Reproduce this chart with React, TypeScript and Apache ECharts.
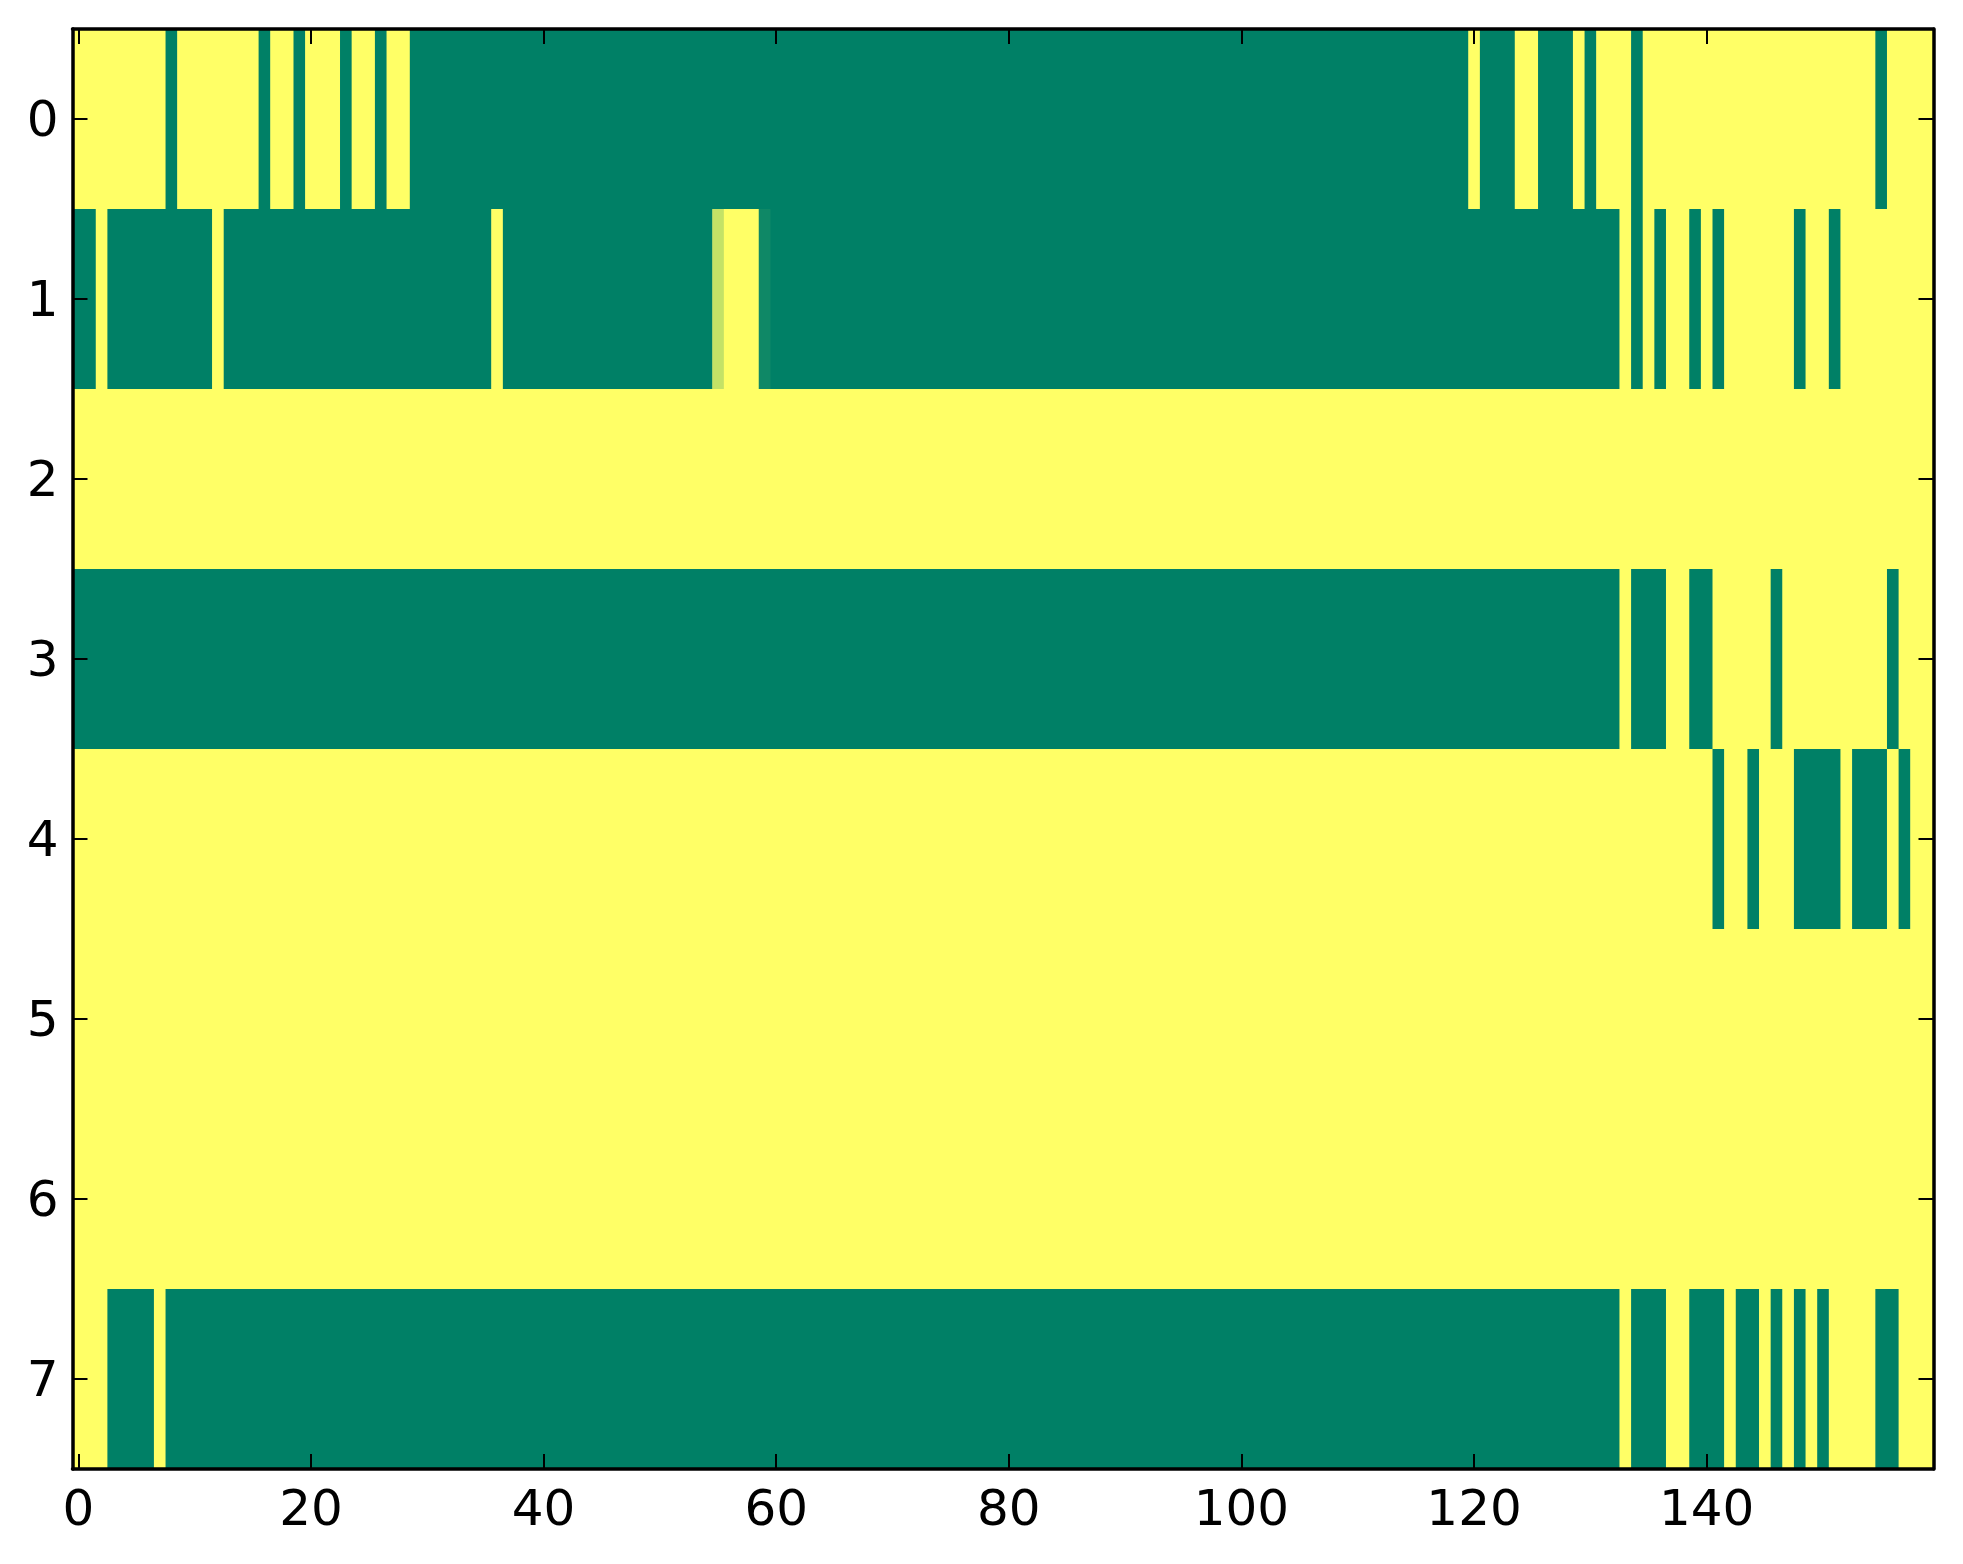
import React, { useEffect, useRef } from 'react';
import * as echarts from 'echarts';

// column indices 0..159 and row indices 0..7 (category axes, like imshow pixels)
const columnLabels: string[] = Array.from({ length: 160 }, (_, i) => String(i));
const rowLabels: string[] = ['0', '1', '2', '3', '4', '5', '6', '7'];
const xTickLabels: string[] = ['0', '20', '40', '60', '80', '100', '120', '140'];

// each row as runs of [value, count]; 0 = green end, 1 = yellow end of the colormap
const row0Runs: number[][] = [[1, 8], [0, 1], [1, 7], [0, 1], [1, 2], [0, 1], [1, 3], [0, 1], [1, 2], [0, 1], [1, 2], [0, 91], [1, 1], [0, 3], [1, 2], [0, 3], [1, 1], [0, 1], [1, 3], [0, 1], [1, 20], [0, 1], [1, 4]];
const row1Runs: number[][] = [[0, 2], [1, 1], [0, 9], [1, 1], [0, 23], [1, 1], [0, 18], [0.77, 1], [1, 3], [0.06, 1], [0, 73], [1, 1], [0, 1], [1, 1], [0, 1], [1, 2], [0, 1], [1, 1], [0, 1], [1, 6], [0, 1], [1, 2], [0, 1], [1, 8]];
const row2Runs: number[][] = [[1, 160]];
const row3Runs: number[][] = [[0, 133], [1, 1], [0, 3], [1, 2], [0, 2], [1, 5], [0, 1], [1, 9], [0, 1], [1, 3]];
const row4Runs: number[][] = [[1, 141], [0, 1], [1, 2], [0, 1], [1, 3], [0, 4], [1, 1], [0, 3], [1, 1], [0, 1], [1, 2]];
const row5Runs: number[][] = [[1, 160]];
const row6Runs: number[][] = [[1, 160]];
const row7Runs: number[][] = [[1, 3], [0, 4], [1, 1], [0, 125], [1, 1], [0, 3], [1, 2], [0, 3], [1, 1], [0, 2], [1, 1], [0, 1], [1, 1], [0, 1], [1, 1], [0, 1], [1, 4], [0, 2], [1, 3]];

const allRows: number[][][] = [row0Runs, row1Runs, row2Runs, row3Runs, row4Runs, row5Runs, row6Runs, row7Runs];

// [firstCol, lastCol, row, value] for each run of equal cells
function buildRuns(): number[][] {
  const out: number[][] = [];
  allRows.forEach((runs, r) => {
    let col = 0;
    runs.forEach(([v, n]) => {
      out.push([col, col + n - 1, r, v]);
      col += n;
    });
  });
  return out;
}

const FONT = 'DejaVu Sans';

export default function App() {
  const ref = useRef<HTMLDivElement>(null);

  useEffect(() => {
    if (!ref.current) return;
    const chart = echarts.init(ref.current, undefined, { renderer: 'svg' });
    const xTickFn = (index: number) => xTickLabels.includes(String(index));
    const lineStyle = { color: '#000', width: 3.5 };
    const tickStyle = { color: '#000', width: 2 };

    const xBase = {
      type: 'category' as const,
      data: columnLabels,
      z: 10,
      axisLine: { show: true, lineStyle },
      splitLine: { show: false },
      axisTick: { show: true, inside: true, length: 15, alignWithLabel: true, interval: xTickFn, lineStyle: tickStyle },
    };
    const yBase = {
      type: 'category' as const,
      data: rowLabels,
      inverse: true,
      z: 10,
      axisLine: { show: true, lineStyle },
      splitLine: { show: false },
      axisTick: { show: true, inside: true, length: 15, alignWithLabel: true, interval: 0, lineStyle: tickStyle },
    };

    chart.setOption({
      animation: false,
      backgroundColor: '#ffffff',
      grid: { left: 72.5, top: 29, width: 1861, height: 1440 },
      xAxis: [
        { ...xBase, position: 'bottom', axisLabel: { show: true, interval: xTickFn, margin: 14, color: '#000', fontSize: 50, fontFamily: FONT } },
        { ...xBase, position: 'top', axisLabel: { show: false } },
      ],
      yAxis: [
        { ...yBase, position: 'left', axisLabel: { show: true, interval: 0, margin: 14, color: '#000', fontSize: 50, fontFamily: FONT } },
        { ...yBase, position: 'right', axisLabel: { show: false } },
      ],
      visualMap: {
        type: 'continuous',
        show: false,
        min: 0,
        max: 1,
        dimension: 3,
        seriesIndex: 0,
        inRange: { color: ['#008066', '#ffff66'] },
      },
      series: [
        {
          type: 'custom',
          xAxisIndex: 0,
          yAxisIndex: 0,
          encode: { x: [0, 1], y: 2 },
          data: buildRuns(),
          silent: true,
          renderItem: (params: any, api: any) => {
            const c0 = api.value(0);
            const c1 = api.value(1);
            const r = api.value(2);
            const p0 = api.coord([c0, r]);
            const p1 = api.coord([c1, r]);
            const size = api.size([1, 1]);
            const w = size[0];
            const h = size[1];
            return {
              type: 'rect',
              shape: {
                x: p0[0] - w / 2,
                y: p0[1] - h / 2,
                width: p1[0] - p0[0] + w + 0.6,
                height: h + 0.6,
              },
              style: { fill: api.visual('color') },
            };
          },
        },
      ],
    });
    return () => chart.dispose();
  }, []);

  return (
    <div
      ref={ref}
      style={{ position: 'absolute', left: 0, top: 0, width: 1963, height: 1564, background: '#fff' }}
    />
  );
}
